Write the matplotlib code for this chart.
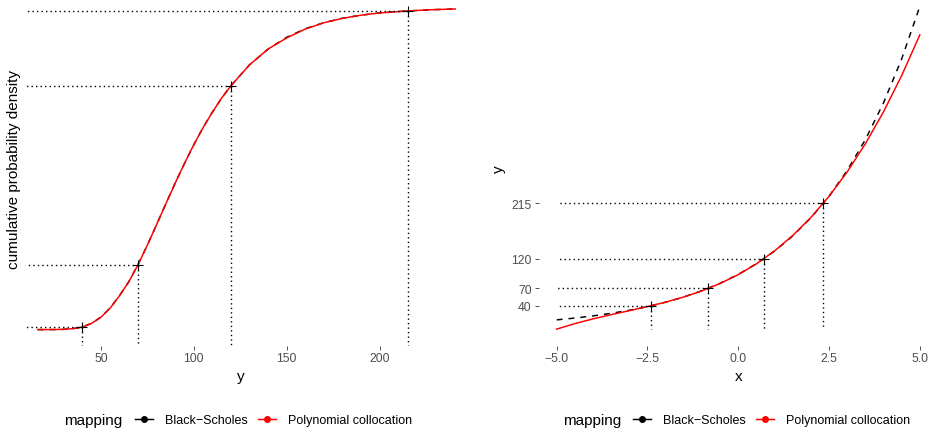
import matplotlib
matplotlib.use("Agg")
import matplotlib.pyplot as plt
from matplotlib.lines import Line2D

plt.rcParams["font.family"] = ["Liberation Sans", "DejaVu Sans"]

# quantile levels used for the collocation points
quant_p = [0.008, 0.202, 0.758, 0.990]
quant_y = [40, 70, 120, 215]
quant_x = [-2.41, -0.834, 0.699, 2.34]

# cumulative distribution of y under both mappings
cdf_y = [16, 20, 25, 30, 35, 40, 45, 50, 55, 60, 65, 70, 75, 80, 85, 90, 95,
         100, 105, 110, 115, 120, 130, 140, 150, 160, 170, 180, 190, 200,
         215, 230, 241]
cdf_bs = [0.0000, 0.0000, 0.0001, 0.0007, 0.0028, 0.0082, 0.0197, 0.0389,
          0.0675, 0.1057, 0.149, 0.203, 0.263, 0.327, 0.392, 0.456, 0.517,
          0.575, 0.628, 0.676, 0.720, 0.758, 0.823, 0.872, 0.9085, 0.9349,
          0.9539, 0.9675, 0.9771, 0.9839, 0.9902, 0.9944, 0.9962]
cdf_poly = [0.0000, 0.0001, 0.0002, 0.0009, 0.0030, 0.0080, 0.0195, 0.0384,
            0.0672, 0.1055, 0.149, 0.202, 0.263, 0.327, 0.392, 0.456, 0.517,
            0.575, 0.628, 0.676, 0.720, 0.758, 0.823, 0.872, 0.9066, 0.9340,
            0.9535, 0.9674, 0.9771, 0.9840, 0.9903, 0.9945, 0.9963]

# y as a function of the standard normal variable x
x_grid = [-5.0, -4.5, -4.0, -3.5, -3.0, -2.5, -2.0, -1.5, -1.0, -0.5, 0.0,
          0.5, 1.0, 1.5, 2.0, 2.5, 3.0, 3.5, 4.0, 4.5, 5.0]
bs_y = [15.8, 18.9, 22.6, 27.0, 32.2, 38.5, 46.0, 54.9, 65.6, 78.3, 93.5,
        111.7, 133.4, 159.3, 190.2, 227.1, 271.2, 323.9, 386.8, 461.9, 551.6]
poly_y = [0.0, 9.4, 17.5, 24.7, 31.5, 38.5, 46.1, 54.9, 65.4, 78.0, 93.2,
          111.6, 133.7, 160.0, 190.9, 227.0, 268.8, 316.8, 371.5, 433.4, 503.0]

left_xticks = [50, 100, 150, 200]
right_xticks = [-5.0, -2.5, 0.0, 2.5, 5.0]
right_yticks = [40, 70, 120, 215]

W, H = 934, 435
fig = plt.figure(figsize=(W / 100, H / 100), dpi=100)


def px_box(left, right, top, bottom):
    return [left / W, 1 - bottom / H, (right - left) / W, (bottom - top) / H]


ax1 = fig.add_axes(px_box(25, 456, -8, 346.5))
ax2 = fig.add_axes(px_box(538.5, 938, -8, 346.5))

LINE_W = 1.07
DOT = dict(color="black", lw=1.0, linestyle=(0, (1, 2.25)), zorder=3)
PLUS = dict(marker="+", color="black", ms=7, mew=0.8, linestyle="none", zorder=4)

for ax in (ax1, ax2):
    for s in ax.spines.values():
        s.set_visible(False)
    ax.tick_params(length=2.75, width=0.6, color="#333333", labelcolor="#4D4D4D",
                   labelsize=8.8, pad=2.2)

# left: cdf of y
ax1.set_xlim(9.1, 241.1)
ax1.set_ylim(-0.0494, 1.0522)
ax1.plot(cdf_y, cdf_bs, color="black", lw=LINE_W, linestyle=(0, (4, 4)), zorder=2)
ax1.plot(cdf_y, cdf_poly, color="red", lw=LINE_W, zorder=2.5)
x0, _ = ax1.get_xlim()
y0, _ = ax1.get_ylim()
for qy, qp in zip(quant_y, quant_p):
    ax1.plot([qy, x0], [qp, qp], **DOT)
    ax1.plot([qy, qy], [qp, y0], **DOT)
ax1.plot(quant_y, quant_p, **PLUS)
ax1.set_xticks(left_xticks)
ax1.set_yticks([])
ax1.set_xlabel("y", fontsize=11, labelpad=3)
ax1.set_ylabel("cumulative probability density", fontsize=11, labelpad=3)

# right: mapping x -> y
ax2.set_xlim(-5.5, 5.5)
ax2.set_ylim(-28.0, 578.0)
ax2.plot(x_grid, bs_y, color="black", lw=LINE_W, linestyle=(0, (4, 4)), zorder=2)
ax2.plot(x_grid, poly_y, color="red", lw=LINE_W, zorder=2.5)
for qx, qy in zip(quant_x, quant_y):
    ax2.plot([qx, x_grid[0]], [qy, qy], **DOT)
    ax2.plot([qx, qx], [qy, poly_y[0]], **DOT)
ax2.plot(quant_x, quant_y, **PLUS)
ax2.set_xticks(right_xticks)
ax2.set_xticklabels([f"{v:.1f}".replace("-", "\u2212") for v in right_xticks])
ax2.set_yticks(right_yticks)
ax2.set_xlabel("x", fontsize=11, labelpad=3)
ax2.set_ylabel("y", fontsize=11, labelpad=4)


def add_legend(title_px, keys_px):
    fy = 1 - 421 / H
    fig.text(title_px / W, fy, "mapping", fontsize=11, ha="left", va="center")
    handles = [
        Line2D([], [], color="black", lw=LINE_W, marker="o", ms=4),
        Line2D([], [], color="red", lw=LINE_W, marker="o", ms=4),
    ]
    fig.legend(handles, ["Black\u2212Scholes", "Polynomial collocation"],
               loc="center left", bbox_to_anchor=(keys_px / W, fy), ncol=2,
               frameon=False, fontsize=9, handlelength=1.45, handletextpad=0.95,
               columnspacing=0.8, borderpad=0, borderaxespad=0)


add_legend(64, 135)
add_legend(563, 633)

fig.savefig("out.png", dpi=100)
